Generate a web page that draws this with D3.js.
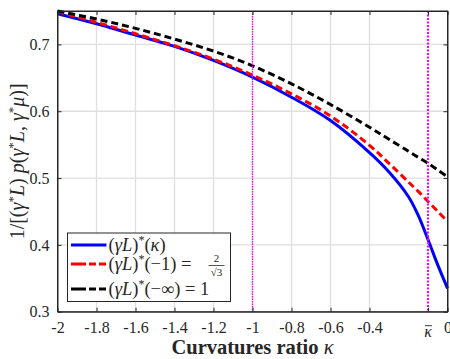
<!DOCTYPE html>
<html>
<head>
<meta charset="utf-8">
<script src="https://cdn.jsdelivr.net/npm/d3@7"></script>
<style>
  body { margin: 0; background: #fff; }
  text { font-family: "Liberation Serif", "DejaVu Serif", serif; fill: #262626; }
</style>
</head>
<body>
<div id="container"></div>
<script>
/* DATA */
const kappaBar = -0.1;
const kappa      = [-2, -1.8, -1.6, -1.4, -1.2, -1, -0.8, -0.6, -0.4, -0.3, -0.2, -0.15, -0.1, -0.05, 0];
const gammaLk    = [0.746, 0.731, 0.714, 0.697, 0.676, 0.651, 0.621, 0.586, 0.538, 0.509, 0.472, 0.444, 0.408, 0.370, 0.335];
const gammaLm1   = [0.749, 0.733, 0.716, 0.698, 0.678, 0.654, 0.626, 0.593, 0.549, 0.522, 0.494, 0.480, 0.465, 0.450, 0.435];
const gammaLinf  = [0.750, 0.738, 0.724, 0.708, 0.690, 0.668, 0.641, 0.610, 0.576, 0.558, 0.540, 0.531, 0.522, 0.512, 0.502];
const xTicks = [-2, -1.8, -1.6, -1.4, -1.2, -1, -0.8, -0.6, -0.4, kappaBar, 0];
const yTicks = [0.3, 0.4, 0.5, 0.6, 0.7];

/* CONSTANTS */
const W = 450, H = 359;
const margin = {top: 11, right: 2.5, bottom: 47.3, left: 57.5};
const width = W - margin.left - margin.right,
      height = H - margin.top - margin.bottom;

const svg = d3.select("#container").append("svg")
  .attr("width", W).attr("height", H);
const g = svg.append("g")
  .attr("transform", "translate(" + margin.left + "," + margin.top + ")");

/* SCALES */
const xScale = d3.scaleLinear().domain([-2, 0]).range([0, width]);
const yScale = d3.scaleLinear().domain([0.3, 0.75]).range([height, 0]);

// grid
g.append("g").selectAll("line")
  .data(xTicks.filter(d => d > -2 && d < 0 && d !== kappaBar))
  .join("line")
  .attr("x1", d => xScale(d)).attr("x2", d => xScale(d))
  .attr("y1", 0).attr("y2", height)
  .attr("stroke", "#dfdfdf").attr("stroke-width", 1.3);
g.append("g").selectAll("line")
  .data(yTicks.filter(d => d > 0.3))
  .join("line")
  .attr("y1", d => yScale(d)).attr("y2", d => yScale(d))
  .attr("x1", 0).attr("x2", width)
  .attr("stroke", "#dfdfdf").attr("stroke-width", 1.3);

/* CURVES */
const series = [
  {vals: gammaLk,   color: "#0000ff", dash: null},
  {vals: gammaLm1,  color: "#ff0000", dash: "7,4"},
  {vals: gammaLinf, color: "#000000", dash: "7,4"}
];
const line = d3.line()
  .x(d => xScale(d[0])).y(d => yScale(d[1]))
  .curve(d3.curveCatmullRom.alpha(0.5));
series.forEach(s => {
  g.append("path")
    .datum(kappa.map((k, i) => [k, s.vals[i]]))
    .attr("d", line)
    .attr("fill", "none")
    .attr("stroke", s.color)
    .attr("stroke-width", 3)
    .attr("stroke-dasharray", s.dash);
});

// vertical markers
g.append("line")
  .attr("x1", xScale(-1)).attr("x2", xScale(-1))
  .attr("y1", 0).attr("y2", height)
  .attr("stroke", "#ff00ff").attr("stroke-width", 1.3)
  .attr("stroke-dasharray", "1.5,1");
g.append("line")
  .attr("x1", xScale(kappaBar)).attr("x2", xScale(kappaBar))
  .attr("y1", 0).attr("y2", height)
  .attr("stroke", "#ff00ff").attr("stroke-width", 2)
  .attr("stroke-dasharray", "2,1.5");

/* AXES */
const fmt = d => d === kappaBar ? "" : String(d);
const xAxis = g.append("g")
  .attr("transform", "translate(0," + height + ")")
  .call(d3.axisBottom(xScale).tickValues(xTicks).tickFormat(fmt).tickSizeInner(-4).tickSizeOuter(0).tickPadding(10));
const yAxis = g.append("g")
  .call(d3.axisLeft(yScale).tickValues(yTicks).tickFormat(d3.format(".1f")).tickSizeInner(-4).tickSizeOuter(0).tickPadding(8));
g.append("g")
  .call(d3.axisTop(xScale).tickValues(xTicks).tickFormat("").tickSizeInner(-4).tickSizeOuter(0));
g.append("g")
  .attr("transform", "translate(" + width + ",0)")
  .call(d3.axisRight(yScale).tickValues(yTicks).tickFormat("").tickSizeInner(-4).tickSizeOuter(0));
g.selectAll(".domain").attr("stroke", "#262626");
g.selectAll(".tick line").attr("stroke", "#262626");
g.selectAll(".tick text").style("font-size", "16px").attr("fill", "#262626");
g.append("rect").attr("width", width).attr("height", height)
  .attr("fill", "none").attr("stroke", "#262626").attr("stroke-width", 1);

// kappa bar tick label
xAxis.append("text")
  .attr("x", xScale(kappaBar)).attr("y", 25)
  .attr("text-anchor", "middle")
  .style("font-size", "16px").style("font-style", "italic")
  .text("κ");
xAxis.append("line")
  .attr("x1", xScale(kappaBar) - 3).attr("x2", xScale(kappaBar) + 4)
  .attr("y1", 14).attr("y2", 14)
  .attr("stroke", "#262626").attr("stroke-width", 0.9);

// axis titles
svg.append("text")
  .attr("x", margin.left + width / 2).attr("y", 354)
  .attr("text-anchor", "middle")
  .style("font-size", "20.5px").style("font-weight", "bold")
  .text("Curvatures ratio ")
  .append("tspan").style("font-style", "italic").style("font-weight", "normal").text("κ");

const yl = svg.append("text")
  .attr("transform", "translate(24," + (margin.top + height / 2) + ") rotate(-90)")
  .attr("text-anchor", "middle")
  .style("font-size", "20px");
function addParts(sel, parts, supSize) {
  parts.forEach(p => {
    const t = sel.append("tspan").text(p.t);
    if (p.i) t.style("font-style", "italic");
    if (p.sup) t.attr("dy", -7).style("font-size", supSize);
    if (p.down) t.attr("dy", 7);
  });
}
addParts(yl, [
  {t: "1/[("}, {t: "γ", i: true}, {t: "*", sup: true}, {t: "L", i: true, down: true}, {t: ") "},
  {t: "p", i: true}, {t: "("}, {t: "γ", i: true}, {t: "*", sup: true}, {t: "L", i: true, down: true},
  {t: ", "}, {t: "γ", i: true}, {t: "*", sup: true}, {t: "μ", i: true, down: true}, {t: ")]"}
], "13px");

/* LEGEND */
const leg = svg.append("g").attr("transform", "translate(67.5,233)");
leg.append("rect").attr("width", 163).attr("height", 68.5)
  .attr("fill", "#fff").attr("stroke", "#262626").attr("stroke-width", 1);
const rows = [
  {y: 12,  s: series[0], parts: [{t: "("}, {t: "γL", i: true}, {t: ")"}, {t: "*", sup: true}, {t: "(", down: true}, {t: "κ", i: true}, {t: ")"}]},
  {y: 31,  s: series[1], parts: [{t: "("}, {t: "γL", i: true}, {t: ")"}, {t: "*", sup: true}, {t: "(−1) = ", down: true}]},
  {y: 56,  s: series[2], parts: [{t: "("}, {t: "γL", i: true}, {t: ")"}, {t: "*", sup: true}, {t: "(−∞) = 1", down: true}]}
];
rows.forEach(r => {
  leg.append("line")
    .attr("x1", 3.5).attr("x2", 39).attr("y1", r.y).attr("y2", r.y)
    .attr("stroke", r.s.color).attr("stroke-width", 3)
    .attr("stroke-dasharray", r.s.dash ? "15,3,7,3,7" : null);
  const t = leg.append("text").attr("x", 41).attr("y", r.y + 6).style("font-size", "18.5px");
  addParts(t, r.parts, "12px");
});
// fraction 2/sqrt(3)
leg.append("text").attr("x", 149).attr("y", 29).attr("text-anchor", "middle")
  .style("font-size", "11px").text("2");
leg.append("line").attr("x1", 141).attr("x2", 157).attr("y1", 32.5).attr("y2", 32.5)
  .attr("stroke", "#262626").attr("stroke-width", 0.8);
leg.append("text").attr("x", 149).attr("y", 43).attr("text-anchor", "middle")
  .style("font-size", "11px").text("√3");
</script>
</body>
</html>
